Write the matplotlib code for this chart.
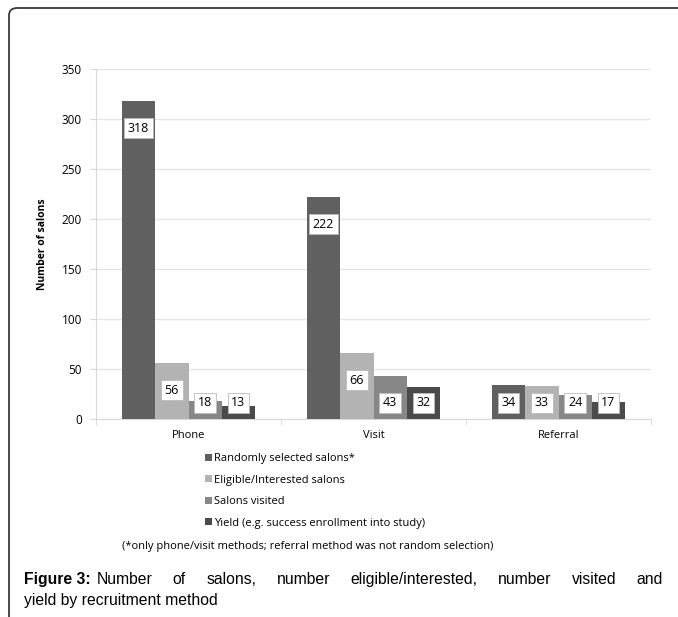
import matplotlib.pyplot as plt
import numpy as np
from matplotlib.patches import FancyBboxPatch, Patch

methods = ['Phone', 'Visit', 'Referral']
series_names = ['Randomly selected salons*', 'Eligible/Interested salons',
                'Salons visited', 'Yield (e.g. success enrollment into study)']
randomly_selected = [318, 222, 34]
eligible = [56, 66, 33]
visited = [18, 43, 24]
yield_enrolled = [13, 32, 17]
y_ticks = [0, 50, 100, 150, 200, 250, 300, 350]

series = [randomly_selected, eligible, visited, yield_enrolled]
colors = ['#606060', '#b3b3b3', '#878787', '#4b4b4b']

W, H = 678, 617
fig = plt.figure(figsize=(W / 100, H / 100), dpi=100)

# frame around the figure, rounded top-left corner, running off the right/bottom
frame = FancyBboxPatch((9 / W, -0.05), 1.2, 1 - 8 / H + 0.05,
                       boxstyle='round,pad=0,rounding_size=0.012',
                       transform=fig.transFigure, fill=False,
                       edgecolor='#3a3a3a', linewidth=1.3)
fig.patches.append(frame)

ax = fig.add_axes([96 / W, 1 - 419 / H, 555 / W, 350 / H])

x = np.arange(len(methods))
width = 0.18
for i, (vals, c) in enumerate(zip(series, colors)):
    pos = x + (i - 1.5) * width
    ax.bar(pos, vals, width, color=c, zorder=3)
    for p, v in zip(pos, vals):
        ly = max(v - 27, 16)
        ax.text(p, ly, str(v), ha='center', va='center', fontsize=9,
                family='Open Sans', zorder=4,
                bbox=dict(boxstyle='square,pad=0.3', fc='white',
                          ec='#bbbbbb', lw=0.6))

ax.set_xlim(-0.5, 2.5)
ax.set_ylim(0, 350)
ax.set_yticks(y_ticks)
ax.set_xticks(x)
ax.set_xticklabels(methods, fontsize=8, family='Open Sans')
ax.tick_params(axis='x', length=0, pad=8)
ax.tick_params(axis='y', length=4, color='#d9d9d9', labelsize=8.5, pad=6)
for lab in ax.get_yticklabels():
    lab.set_family('Open Sans')
ax.set_xticks([-0.5, 0.5, 1.5, 2.5], minor=True)
ax.tick_params(axis='x', which='minor', length=4, color='#d9d9d9')
ax.grid(axis='y', color='#e6e6e6', linewidth=1, zorder=0)
for s in ['top', 'right']:
    ax.spines[s].set_visible(False)
for s in ['left', 'bottom']:
    ax.spines[s].set_color('#d9d9d9')
ax.set_ylabel('Number of salons', fontsize=7.5, fontweight='bold',
              family='Open Sans', labelpad=10)

handles = [Patch(facecolor=c, edgecolor='none') for c in colors]
fig.legend(handles, series_names, loc='upper left',
           bbox_to_anchor=(195 / W, 1 - 443 / H), frameon=False,
           prop={'family': 'Open Sans', 'size': 8},
           handlelength=0.6, handleheight=0.6, handletextpad=0.2,
           labelspacing=0.95)

fig.text(308 / W, 1 - 547 / H,
         '(*only phone/visit methods; referral method was not random selection)',
         ha='center', va='center', fontsize=8, family='Open Sans')


def justified_line(words, x0, x1, y, **kw):
    # spread words evenly between x0 and x1 (pixel coords), shared baseline
    fig.canvas.draw()
    r = fig.canvas.get_renderer()
    texts = [fig.text(0, 1 - y / H, w, va='baseline', ha='left', **kw)
             for w in words]
    widths = [t.get_window_extent(r).width for t in texts]
    gap = (x1 - x0 - sum(widths)) / (len(words) - 1)
    pos = x0
    for t, w in zip(texts, widths):
        t.set_x(pos / W)
        pos += w + gap


cap_font = dict(fontsize=11.3, family='Liberation Sans')
line1_base = 584
line2_base = 605
head = fig.text(24 / W, 1 - line1_base / H, 'Figure 3:', ha='left',
                va='baseline', fontweight='bold', **cap_font)
fig.canvas.draw()
head_end = head.get_window_extent(fig.canvas.get_renderer()).x1
justified_line('Number of salons, number eligible/interested, number visited and'.split(),
               head_end + 6, 663, line1_base, **cap_font)
fig.text(24 / W, 1 - line2_base / H, 'yield by recruitment method',
         ha='left', va='baseline', **cap_font)

fig.savefig('out.png', dpi=100)
